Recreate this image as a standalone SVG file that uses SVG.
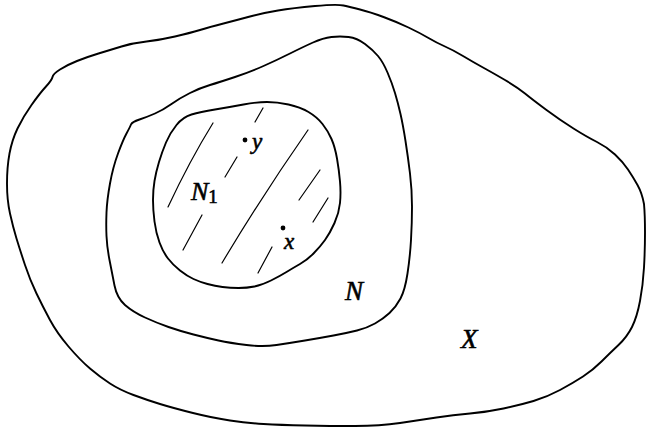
<svg xmlns="http://www.w3.org/2000/svg" width="647" height="429" viewBox="0 0 647 429">
<style>
.curve{fill:none;stroke:#000;stroke-width:1.9;stroke-linejoin:round;stroke-linecap:round}
.hatch{fill:none;stroke:#000;stroke-width:1.2;stroke-linecap:round}
.lbl{font-family:"Liberation Serif","Times New Roman",serif;font-style:italic;fill:#000;stroke:#000;stroke-width:0.6}
</style>
<rect width="647" height="429" fill="#fff"/>
<g id="X">
<path class="curve" d="M 60,69.5 Q 67,65 77,61 Q 87,57 98.5,53.5 Q 110,50 121.5,46.5 Q 133,43 146.5,41.5 Q 160,40 175,36.5 Q 190,33 200,30 Q 210,27 223.5,23.5 Q 237,20 250,16.5 Q 263,13 278,10.5 Q 293,8 315,6 Q 337,4 343.5,5.5 Q 350,7 360,9.5 Q 370,12 383.5,17 Q 397,22 408.5,27.5 Q 420,33 428.5,38 Q 437,43 445,46.5 Q 453,50 463,56 Q 473,62 483,67.5 Q 493,73 505,80 Q 517,87 525,93.5 Q 533,100 546.5,110 Q 560,120 573.5,128.5 Q 587,137 597,142 Q 607,147 615,154.5 Q 623,162 628,169.5 Q 633,177 637.5,185 Q 642,193 644,204 Q 645,215 645,232.5 Q 645,250 644,267.5 Q 643,285 640,301 Q 637,317 632,327 Q 627,337 618.5,345 Q 610,353 601.5,361.5 Q 593,370 583,376.5 Q 573,383 560,390 Q 547,397 533.5,401 Q 520,405 503.5,408.5 Q 487,412 470,413.5 Q 453,415 436.5,417.5 Q 420,420 400,423 Q 380,426 355,426 Q 330,426 305,425.5 Q 280,425 263.5,424 Q 247,423 230,420.5 Q 213,418 193,413 Q 173,408 160,404 Q 147,400 133.5,395 Q 120,390 110,383.5 Q 100,377 90,368.5 Q 80,360 68.5,346.5 Q 57,333 50,320 Q 43,307 36.5,293.5 Q 30,280 25,265 Q 20,250 16.5,238.5 Q 13,227 10,213.5 Q 7,200 7,183.5 Q 7,167 9.5,153.5 Q 12,140 17.5,128.5 Q 23,117 31.5,105 Q 40,93 46,86.5 Q 52,80 52.5,77 Q 53,74 60,69.5 Z"/>
<text class="lbl" x="461" y="348" font-size="27">X</text>
</g>
<g id="N">
<path class="curve" d="M 139.5,119.5 Q 147,117 155,113.5 Q 163,110 171.5,104 Q 180,98 190,93 Q 200,88 210,85 Q 220,82 235,77 Q 250,72 263.5,66 Q 277,60 290,53.5 Q 303,47 313,42.5 Q 323,38 331.5,37 Q 340,36 348.5,37 Q 357,38 365,44 Q 373,50 378,56 Q 383,62 387.5,72.5 Q 392,83 395,93 Q 398,103 400.5,114 Q 403,125 405.5,141 Q 408,157 410,173.5 Q 412,190 412,206.5 Q 412,223 411,240 Q 410,257 407.5,273.5 Q 405,290 400.5,298.5 Q 396,307 389.5,313 Q 383,319 375,323.5 Q 367,328 357,330.5 Q 347,333 333.5,335.5 Q 320,338 305,340.5 Q 290,343 276.5,345 Q 263,347 246.5,345 Q 230,343 218.5,340.5 Q 207,338 193.5,334.5 Q 180,331 168.5,327 Q 157,323 145,317.5 Q 133,312 125,305 Q 117,298 114.5,285.5 Q 112,273 109.5,260 Q 107,247 106.5,236 Q 106,225 106.5,212.5 Q 107,200 110,183.5 Q 113,167 118,153.5 Q 123,140 126.5,133.5 Q 130,127 131,124.5 Q 132,122 139.5,119.5 Z"/>
<text class="lbl" x="345" y="300" font-size="27">N</text>
</g>
<g id="N1">
<path class="curve" d="M 176.5,125 Q 183,117 191.5,114.5 Q 200,112 215,109.5 Q 230,107 243.5,104.5 Q 257,102 267,102 Q 277,102 288.5,104.5 Q 300,107 308.5,112 Q 317,117 322.5,124 Q 328,131 331.5,139 Q 335,147 337,158.5 Q 339,170 340,181.5 Q 341,193 340,203 Q 339,213 334.5,223 Q 330,233 325,240 Q 320,247 313.5,253.5 Q 307,260 300,264 Q 293,268 286.5,272 Q 280,276 271,280.5 Q 262,285 254.5,286.5 Q 247,288 238.5,288 Q 230,288 222.5,287 Q 215,286 207.5,284 Q 200,282 193.5,279 Q 187,276 180,270.5 Q 173,265 168,258.5 Q 163,252 159.5,242.5 Q 156,233 154.5,221.5 Q 153,210 153,200 Q 153,190 154.5,181 Q 156,172 159,162 Q 162,152 166,142.5 Q 170,133 176.5,125 Z"/>
<g id="hatching">
<path class="hatch" d="M213,123 Q189.5,161 168,207"/>
<path class="hatch" d="M263,108 L255,122"/>
<path class="hatch" d="M237,157 L225,177"/>
<path class="hatch" d="M308,130 Q261,197.5 222,263"/>
<path class="hatch" d="M320,170 L299,200"/>
<path class="hatch" d="M328,198 L313,222"/>
<path class="hatch" d="M202,215 L183,250"/>
<path class="hatch" d="M272,247 L258,273"/>
</g>
<text class="lbl" x="191" y="200" font-size="26">N<tspan font-size="19" font-style="normal" dy="3">1</tspan></text>
</g>
<g id="y">
<circle cx="245" cy="140" r="2.4" fill="#000"/>
<text class="lbl" x="252" y="149" font-size="23">y</text>
</g>
<g id="x">
<circle cx="283" cy="228" r="2.4" fill="#000"/>
<text class="lbl" x="284" y="249" font-size="23">x</text>
</g>
</svg>
